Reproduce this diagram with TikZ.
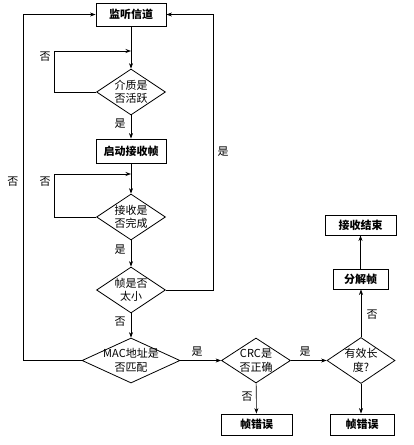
\documentclass[tikz,border=0pt]{standalone}
\usepackage{fontspec}
\newfontfamily\cjk{Noto Sans CJK SC}
\usetikzlibrary{shapes.geometric,arrows.meta}
\begin{document}
\begin{tikzpicture}[x=1pt,y=-1pt,
  txt/.style={font=\cjk\fontsize{11}{13.5}\selectfont},
  box/.style={draw, line width=0.9pt, inner sep=0pt, font=\cjk\bfseries\fontsize{11}{13}\selectfont},
  dia/.style={draw, diamond, line width=0.8pt, inner sep=0pt},
  dtxt/.style={txt, align=center},
  lbl/.style={txt},
  ln/.style={line width=0.6pt},
  arr/.style={ln, -{Stealth[length=5.5pt,width=4pt]}}]
\useasboundingbox (0,0) rectangle (413,445);
% boxes
\node[box, minimum width=70pt, minimum height=23pt] (b1) at (131,14.5) {监听信道};
\node[box, minimum width=70pt, minimum height=24pt] (b2) at (131,151) {启动接收帧};
\node[box, minimum width=71pt, minimum height=21pt] (e1) at (256.5,424.5) {帧错误};
\node[box, minimum width=64pt, minimum height=21pt] (e2) at (362,424.5) {帧错误};
\node[box, minimum width=55pt, minimum height=20pt] (b3) at (360.5,279) {分解帧};
\node[box, minimum width=71pt, minimum height=20pt] (b4) at (360.5,225) {接收结束};
% diamonds
\node[dia, minimum width=69pt, minimum height=46pt, label={[dtxt]center:介质是\\否活跃}] (d1) at (131,92) {};
\node[dia, minimum width=69pt, minimum height=46pt, label={[dtxt]center:接收是\\否完成}] (d2) at (131,217) {};
\node[dia, minimum width=69pt, minimum height=46pt, label={[dtxt]center:帧是否\\太小}] (d3) at (131,290) {};
\node[dia, minimum width=98pt, minimum height=45pt, label={[dtxt]center:MAC地址是\\否匹配}] (d4) at (131,360.5) {};
\node[dia, minimum width=69pt, minimum height=45pt, label={[dtxt]center:CRC是\\否正确}] (d5) at (256,360.5) {};
\node[dia, minimum width=68pt, minimum height=46pt, label={[dtxt]center:有效长\\度?}] (d6) at (361,360.5) {};
% junction coordinates
\coordinate (j1) at (131,51);
\coordinate (j2) at (131,174);
% connectors
\draw[arr] (b1) -- (d1);
\draw[arr] (d1.west) -- (54,92) |- (j1);
\draw[arr] (d1) -- (b2);
\draw[arr] (b2) -- (d2);
\draw[arr] (d2.west) -- (54,217) |- (j2);
\draw[arr] (d2) -- (d3);
\draw[arr] (d3.east) -- (213,290) |- (b1.east);
\draw[arr] (d3) -- (d4);
\draw[arr] (d4.west) -- (23,360.5) |- (b1.west);
\draw[arr] (d4) -- (d5);
\draw[arr] (d5) -- (e1);
\draw[arr] (d5) -- (d6);
\draw[arr] (d6.south) -- (d6.south |- e2.north);
\draw[arr] (d6.north) -- (d6.north |- b3.south);
\draw[arr] (b3) -- (b4);
% labels
\node[lbl] (l1) at (45,57) {否};
\node[lbl] (l2) at (120,124) {是};
\node[lbl] (l3) at (45,182) {否};
\node[lbl] (l4) at (13,182) {否};
\node[lbl] (l5) at (223,152) {是};
\node[lbl] (l6) at (120,250) {是};
\node[lbl] (l7) at (120,322) {否};
\node[lbl] (l8) at (197,352) {是};
\node[lbl] (l9) at (247,397) {否};
\node[lbl] (l10) at (305,352) {是};
\node[lbl] (l11) at (372,315) {否};
\end{tikzpicture}
\end{document}
